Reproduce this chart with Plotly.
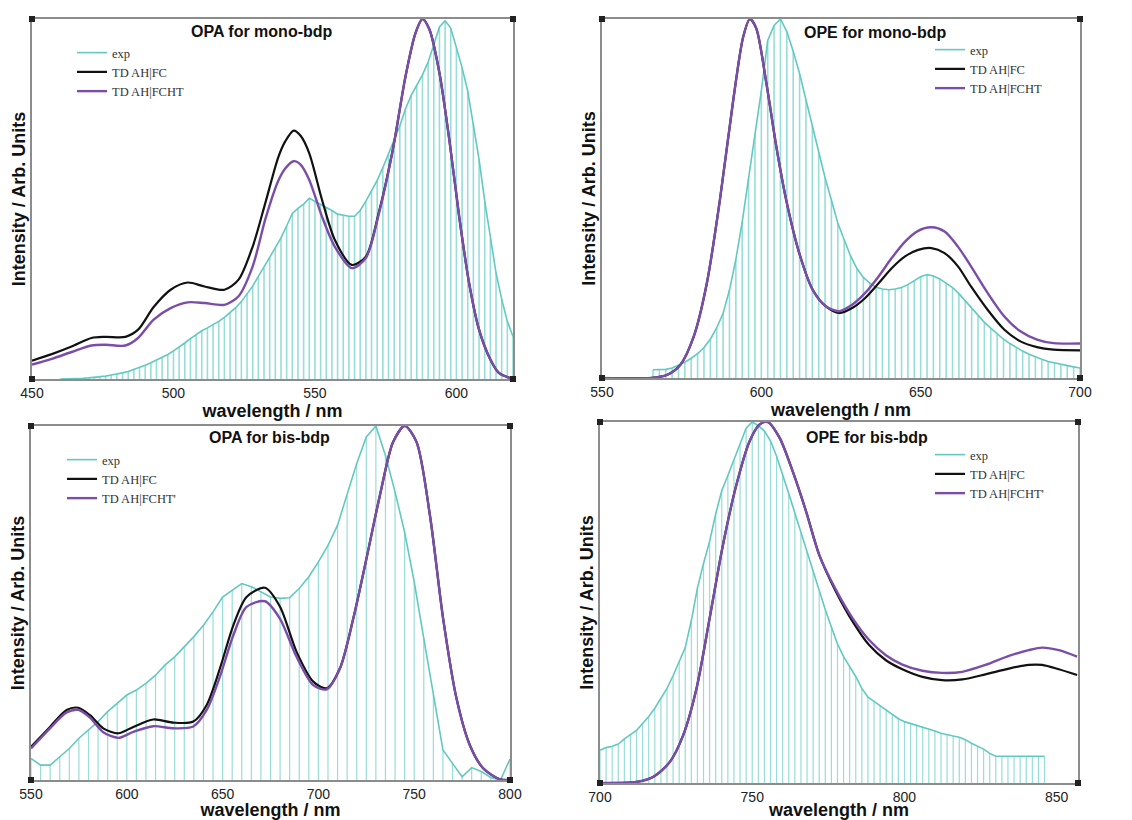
import plotly.graph_objects as go

# ---------------- Panel 1: OPA for mono-bdp ----------------
p1_exp_x = list(range(460, 621, 2))
p1_exp_y = [0.000, 0.000, 0.001, 0.001, 0.002, 0.003, 0.004, 0.005, 0.008, 0.011,
            0.013, 0.017, 0.021, 0.026, 0.031, 0.038, 0.045, 0.052, 0.060, 0.068,
            0.078, 0.088, 0.100, 0.112, 0.124, 0.134, 0.142, 0.150, 0.160, 0.171,
            0.184, 0.198, 0.215, 0.236, 0.258, 0.285, 0.310, 0.338, 0.365, 0.392,
            0.425, 0.460, 0.474, 0.486, 0.502, 0.494, 0.486, 0.477, 0.468, 0.458,
            0.454, 0.452, 0.452, 0.468, 0.494, 0.522, 0.552, 0.587, 0.624, 0.663,
            0.703, 0.750, 0.788, 0.816, 0.845, 0.880, 0.930, 0.978, 0.995, 0.975,
            0.920, 0.865, 0.800, 0.710, 0.610, 0.495, 0.390, 0.295, 0.222, 0.160,
            0.118]
p1_th_x = [450, 457, 464, 471, 476, 483, 487.5, 493, 499, 505, 511, 518, 523, 528,
           532.5, 537, 539.5, 542.5, 545, 548, 552.5, 557, 563, 568, 572.5, 577.5, 582,
           585.5, 588, 590.5, 594, 597.5, 601, 604.5, 608, 612, 615, 620]
p1_fc_y = [0.051, 0.069, 0.090, 0.114, 0.117, 0.117, 0.137, 0.200, 0.248, 0.268,
           0.257, 0.248, 0.276, 0.368, 0.490, 0.615, 0.660, 0.690, 0.675, 0.627, 0.498,
           0.387, 0.317, 0.340, 0.460, 0.636, 0.840, 0.960, 1.000, 0.970, 0.850,
           0.664, 0.450, 0.266, 0.137, 0.054, 0.017, 0.000]
p1_fcht_y = [0.040, 0.056, 0.075, 0.093, 0.095, 0.093, 0.114, 0.165, 0.197, 0.213,
             0.211, 0.206, 0.230, 0.313, 0.445, 0.550, 0.585, 0.605, 0.595, 0.553, 0.451,
             0.368, 0.308, 0.336, 0.456, 0.636, 0.840, 0.960, 1.000, 0.970, 0.850,
             0.664, 0.450, 0.266, 0.137, 0.054, 0.017, 0.000]

# ---------------- Panel 2: OPE for mono-bdp ----------------
p2_exp_x = list(range(566, 701, 2))
p2_exp_y = [0.023, 0.023, 0.024, 0.028, 0.035, 0.044, 0.055, 0.068, 0.085, 0.108,
            0.140, 0.180, 0.245, 0.330, 0.435, 0.555, 0.680, 0.800, 0.940, 0.982,
            1.000, 0.965, 0.910, 0.848, 0.775, 0.703, 0.628, 0.558, 0.495, 0.432,
            0.385, 0.340, 0.305, 0.280, 0.265, 0.253, 0.248, 0.246, 0.248, 0.252,
            0.260, 0.270, 0.282, 0.288, 0.284, 0.276, 0.265, 0.252, 0.235, 0.215,
            0.193, 0.172, 0.155, 0.139, 0.123, 0.108, 0.096, 0.085, 0.075, 0.066,
            0.058, 0.052, 0.046, 0.042, 0.037, 0.034, 0.031, 0.028]
p2_th_x = [550, 565.3, 570.5, 574.6, 578.8, 582.9, 587, 591.2, 594.3, 596.4, 598.4,
           601.6, 604.7, 607.8, 611.9, 616.1, 620.2, 624.4, 628.5, 632.6, 636.8,
           640.9, 645.1, 649.2, 653.4, 657.5, 661.7, 665.8, 671, 676.2, 681.3,
           686.5, 691.7, 700]
p2_fc_y = [0.000, 0.000, 0.009, 0.037, 0.116, 0.264, 0.496, 0.775, 0.950, 1.000,
           0.974, 0.820, 0.645, 0.496, 0.348, 0.246, 0.200, 0.181, 0.195, 0.223,
           0.264, 0.306, 0.339, 0.357, 0.362, 0.348, 0.311, 0.255, 0.190, 0.135,
           0.102, 0.086, 0.079, 0.077]
p2_fcht_y = [0.000, 0.000, 0.009, 0.037, 0.116, 0.264, 0.496, 0.775, 0.950, 1.000,
             0.974, 0.820, 0.645, 0.496, 0.348, 0.246, 0.200, 0.186, 0.204, 0.237,
             0.283, 0.334, 0.380, 0.410, 0.420, 0.408, 0.366, 0.311, 0.237, 0.172,
             0.130, 0.107, 0.097, 0.096]

# ---------------- Panel 3: OPA for bis-bdp ----------------
p3_exp_x = list(range(550, 801, 5))
p3_exp_y = [0.061, 0.042, 0.042, 0.066, 0.089, 0.118, 0.141, 0.165, 0.193, 0.216,
            0.240, 0.254, 0.273, 0.296, 0.325, 0.348, 0.376, 0.405, 0.437, 0.475,
            0.517, 0.536, 0.555, 0.546, 0.532, 0.517, 0.513, 0.515, 0.541, 0.574,
            0.616, 0.663, 0.720, 0.804, 0.894, 0.969, 1.000, 0.917, 0.814, 0.700,
            0.560, 0.400, 0.240, 0.085, 0.047, 0.009, 0.035, 0.024, 0.007, 0.000,
            0.059]
p3_th_x = [550, 559.9, 568.6, 574.7, 580.8, 587.7, 595.6, 603.4, 613.8, 624.3,
           634.7, 641.7, 648.6, 655.6, 662.5, 672.1, 679.9, 688.6, 697.3, 704.3,
           711.2, 718.2, 725.1, 732.1, 739, 745.1, 751.2, 758.2, 765.1, 772.1,
           779, 786, 794.7, 800]
p3_fc_y = [0.094, 0.150, 0.198, 0.204, 0.183, 0.146, 0.132, 0.150, 0.171, 0.162,
           0.165, 0.212, 0.315, 0.437, 0.517, 0.543, 0.490, 0.362, 0.278, 0.259,
           0.315, 0.456, 0.626, 0.804, 0.955, 1.000, 0.955, 0.748, 0.456, 0.230,
           0.099, 0.033, 0.002, 0.000]
p3_fcht_y = [0.089, 0.146, 0.191, 0.198, 0.176, 0.135, 0.119, 0.136, 0.152, 0.146,
             0.151, 0.198, 0.292, 0.409, 0.489, 0.505, 0.456, 0.348, 0.268, 0.256,
             0.315, 0.456, 0.626, 0.804, 0.955, 1.000, 0.955, 0.748, 0.456, 0.230,
             0.099, 0.033, 0.002, 0.000]

# ---------------- Panel 4: OPE for bis-bdp ----------------
p4_exp_x = list(range(700, 847, 2))
p4_exp_y = [0.091, 0.098, 0.102, 0.108, 0.122, 0.135, 0.146, 0.165, 0.184, 0.207,
            0.234, 0.262, 0.297, 0.335, 0.375, 0.450, 0.540, 0.608, 0.669, 0.745,
            0.810, 0.852, 0.895, 0.938, 0.983, 1.000, 0.990, 0.975, 0.948, 0.905,
            0.855, 0.802, 0.748, 0.693, 0.640, 0.585, 0.530, 0.480, 0.432, 0.385,
            0.350, 0.322, 0.295, 0.262, 0.238, 0.226, 0.214, 0.200, 0.188, 0.178,
            0.170, 0.165, 0.161, 0.156, 0.150, 0.144, 0.138, 0.133, 0.130, 0.127,
            0.120, 0.110, 0.102, 0.094, 0.082, 0.074, 0.074, 0.074, 0.074, 0.074,
            0.074, 0.074, 0.074, 0.074]
p4_th_x = [700, 712, 717.5, 722.9, 727.3, 731.7, 736, 740.4, 744.8, 749.1, 752.4,
           755.1, 759, 763.3, 767.7, 772, 777.5, 783, 788.4, 793.9, 799.3, 805.9,
           812.4, 819, 826.6, 834.3, 840.8, 845.2, 850.7, 856.7]
p4_fc_y = [0.000, 0.003, 0.017, 0.058, 0.132, 0.262, 0.456, 0.660, 0.826, 0.946,
           0.993, 1.000, 0.956, 0.863, 0.752, 0.632, 0.530, 0.447, 0.382, 0.340,
           0.315, 0.294, 0.285, 0.287, 0.301, 0.317, 0.327, 0.327, 0.315, 0.299]
p4_fcht_y = [0.000, 0.003, 0.017, 0.058, 0.132, 0.262, 0.456, 0.660, 0.826, 0.946,
             0.993, 1.000, 0.956, 0.863, 0.752, 0.632, 0.535, 0.456, 0.396, 0.354,
             0.328, 0.311, 0.305, 0.308, 0.327, 0.352, 0.368, 0.375, 0.368, 0.350]

titles = ["OPA for mono-bdp", "OPE for mono-bdp", "OPA for bis-bdp", "OPE for bis-bdp"]
x_ranges = [[450, 620], [550, 700], [550, 800], [700, 857]]
x_ticks = [[450, 500, 550, 600], [550, 600, 650, 700],
           [550, 600, 650, 700, 750, 800], [700, 750, 800, 850]]
fcht_names = ["TD AH|FCHT", "TD AH|FCHT", "TD AH|FCHT'", "TD AH|FCHT'"]

TEAL = "#62c9c1"
STICK = "#98ddd7"
PURPLE = "#7a4ea8"
BLACK = "#111111"

panels = [
    (p1_exp_x, p1_exp_y, p1_th_x, p1_fc_y, p1_fcht_y, 1.6),
    (p2_exp_x, p2_exp_y, p2_th_x, p2_fc_y, p2_fcht_y, 1.6),
    (p3_exp_x, p3_exp_y, p3_th_x, p3_fc_y, p3_fcht_y, 1.2),
    (p4_exp_x, p4_exp_y, p4_th_x, p4_fc_y, p4_fcht_y, 1.2),
]

W, H = 1132, 820
# plot areas in pixels: left, right, top, bottom
boxes = [(32, 513, 19, 379), (602, 1080, 19, 378), (31, 510, 426, 780), (600, 1078, 422, 783)]
legend_pos = [(72, 38), (930, 35), (62, 445), (930, 440)]
title_pos = [(262, 31), (875, 32), (269, 437), (867, 437)]

fig = go.Figure()
layout = dict(
    width=W, height=H, margin=dict(l=0, r=0, t=0, b=0),
    paper_bgcolor="white", plot_bgcolor="white", showlegend=True,
    font=dict(family="Liberation Sans, Arial, sans-serif", color="#222222"),
)
shapes = []
annotations = []

for i, (ex, ey, tx, fc, fcht, sthick) in enumerate(panels):
    n = i + 1
    xa = "x" if n == 1 else f"x{n}"
    ya = "y" if n == 1 else f"y{n}"
    lg = "legend" if n == 1 else f"legend{n}"
    fig.add_trace(go.Scatter(
        x=ex, y=ey, xaxis=xa, yaxis=ya, legend=lg, name="exp", mode="lines",
        line=dict(color=TEAL, width=1.6),
        error_y=dict(type="data", symmetric=False, array=[0] * len(ey), arrayminus=ey,
                     width=0, thickness=sthick, color=STICK),
    ))
    fig.add_trace(go.Scatter(
        x=tx, y=fc, xaxis=xa, yaxis=ya, legend=lg, name="TD AH|FC", mode="lines",
        line=dict(color=BLACK, width=2.2, shape="spline", smoothing=0.8),
    ))
    fig.add_trace(go.Scatter(
        x=tx, y=fcht, xaxis=xa, yaxis=ya, legend=lg, name=fcht_names[i], mode="lines",
        line=dict(color=PURPLE, width=2.4, shape="spline", smoothing=0.8),
    ))
    l, r, t, b = boxes[i]
    axkey_x = "xaxis" if n == 1 else f"xaxis{n}"
    axkey_y = "yaxis" if n == 1 else f"yaxis{n}"
    layout[axkey_x] = dict(
        domain=[l / W, r / W], anchor=ya, range=x_ranges[i], tickvals=x_ticks[i],
        showgrid=False, zeroline=False, ticks="", showline=True, mirror=True,
        linecolor="#8c8c8c", linewidth=1.5, automargin=False,
        tickfont=dict(size=14, color="#222222"),
        title=dict(text="<b>wavelength / nm</b>", standoff=0,
                   font=dict(size=18, color="#111111")),
    )
    layout[axkey_y] = dict(
        domain=[1 - b / H, 1 - t / H], anchor=xa, range=[0, 1.0],
        showgrid=False, zeroline=False, ticks="", showticklabels=False,
        showline=True, mirror=True, linecolor="#8c8c8c", linewidth=1.5, automargin=False,
        title=dict(text="<b>Intensity / Arb. Units</b>", standoff=0,
                   font=dict(size=18, color="#111111")),
    )
    lx, ly = legend_pos[i]
    layout[lg] = dict(
        x=lx / W, y=1 - ly / H, xanchor="left", yanchor="top", bgcolor="rgba(0,0,0,0)",
        borderwidth=0, tracegroupgap=0, itemwidth=30,
        font=dict(family="Liberation Serif, Times New Roman, serif", size=12.5, color="#333333"),
    )
    tx_, ty_ = title_pos[i]
    annotations.append(dict(
        text=f"<b>{titles[i]}</b>", x=tx_ / W, y=1 - ty_ / H, xref="paper", yref="paper",
        xanchor="center", yanchor="middle", showarrow=False,
        font=dict(size=16, color="#111111"),
    ))
    for cx in (0, 1):
        for cy in (0, 1):
            shapes.append(dict(
                type="rect", xref=f"{xa} domain", yref=f"{ya} domain",
                xsizemode="pixel", ysizemode="pixel", xanchor=cx, yanchor=cy,
                x0=-3, x1=3, y0=-3, y1=3, fillcolor="#222222",
                line=dict(width=0), layer="above",
            ))

layout["shapes"] = shapes
layout["annotations"] = annotations
fig.update_layout(**layout)
fig.write_html("out.html", config={"displayModeBar": False},
               post_script="document.body.style.margin='0px';")
